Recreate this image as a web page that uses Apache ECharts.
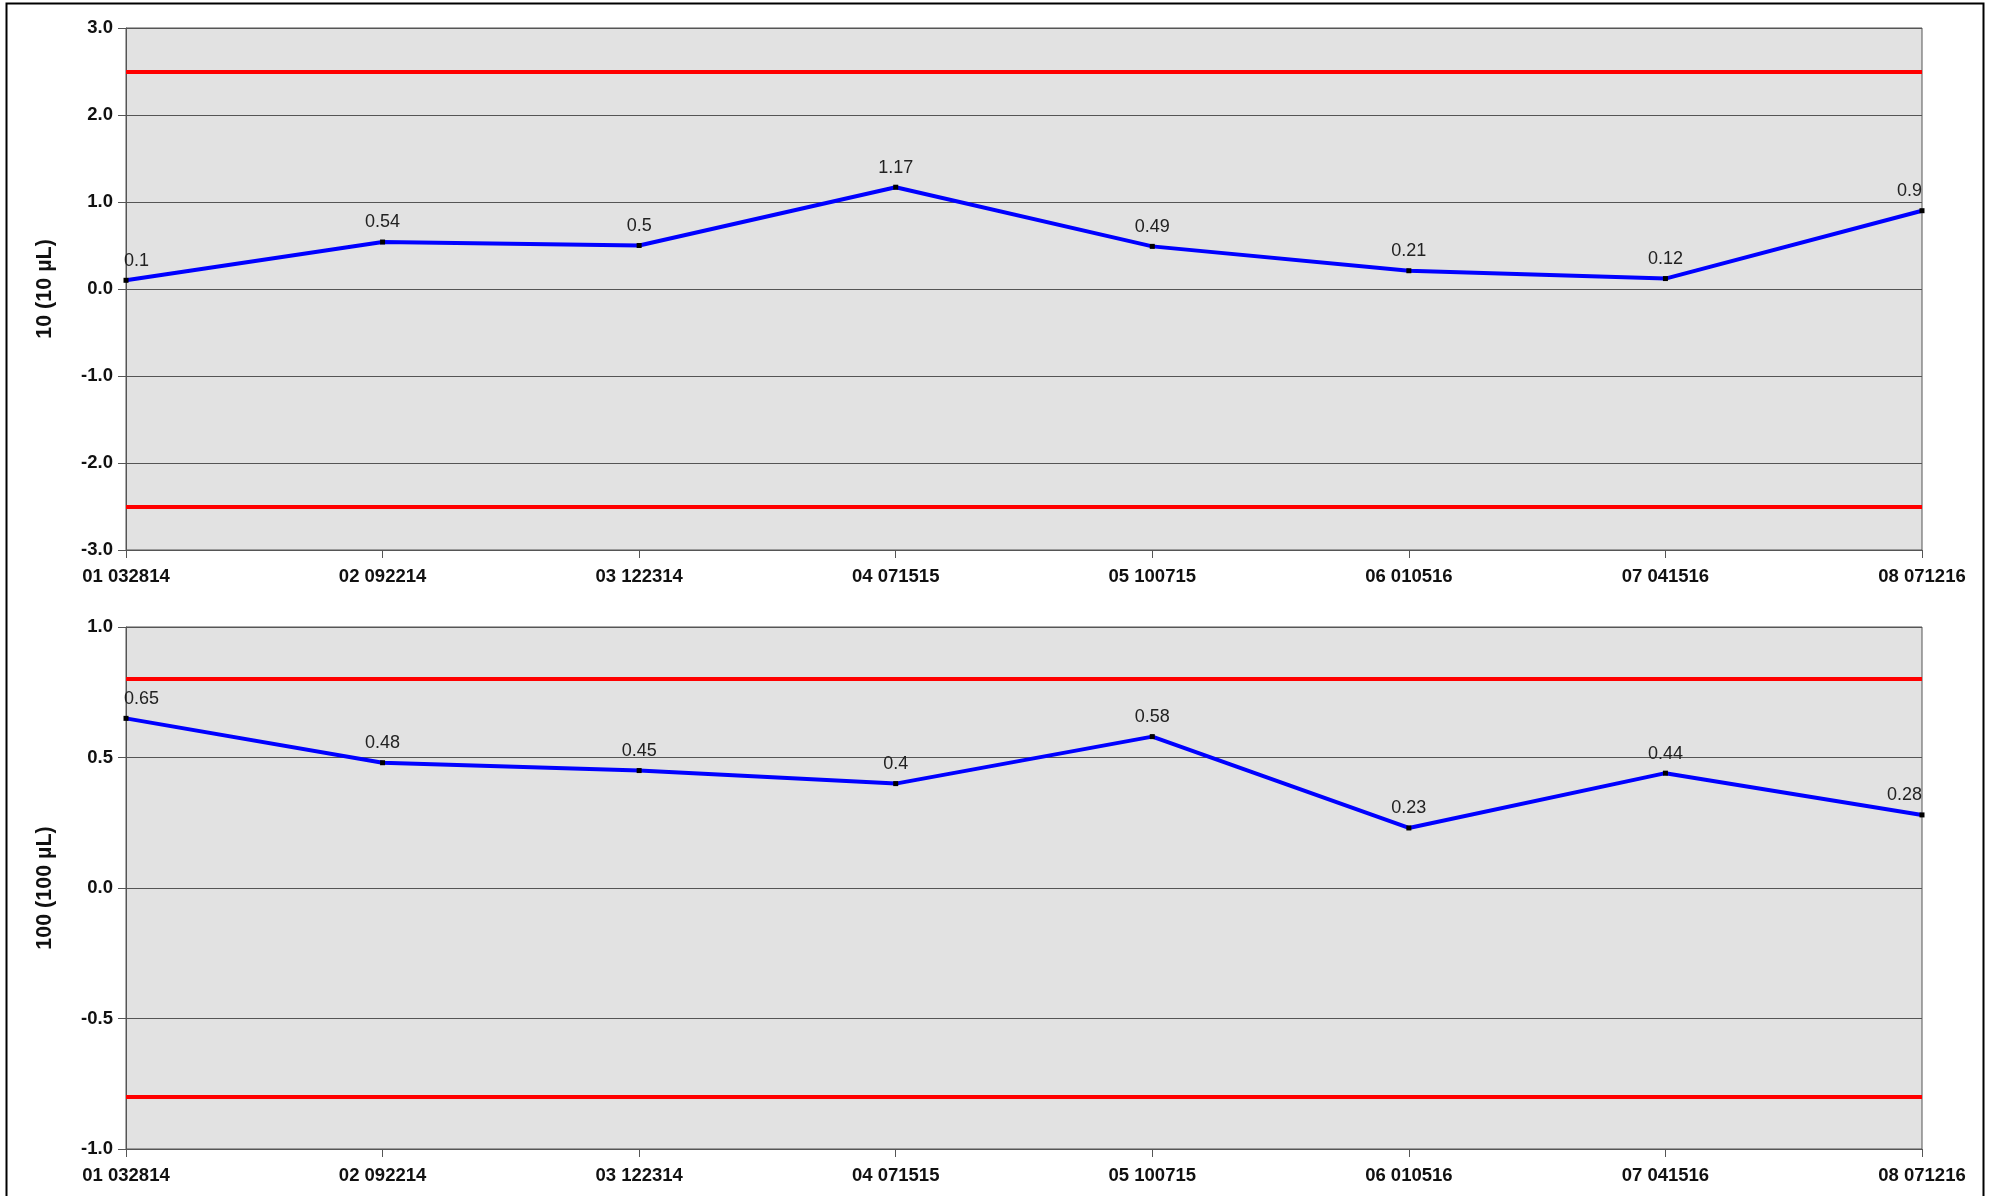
<!DOCTYPE html>
<html><head><meta charset="utf-8">
<script src="https://cdn.jsdelivr.net/npm/echarts@6/dist/echarts.min.js"></script>
<style>html,body{margin:0;padding:0;background:#fff;}#c{width:1992px;height:1196px;}</style>
</head><body><div id="c"></div>
<script>
const categories = ['01 032814','02 092214','03 122314','04 071515','05 100715','06 010516','07 041516','08 071216'];
const values10 = [0.1, 0.54, 0.5, 1.17, 0.49, 0.21, 0.12, 0.9];
const values100 = [0.65, 0.48, 0.45, 0.4, 0.58, 0.23, 0.44, 0.28];
const limits10 = [2.5, -2.5];
const limits100 = [0.8, -0.8];
const yName10 = '10 (10 µL)';
const yName100 = '100 (100 µL)';

const FONT = 'Arial, "Liberation Sans", sans-serif';
const chart = echarts.init(document.getElementById('c'), null, {renderer: 'canvas'});

function items(vals) {
  return vals.map((v, i) => {
    const it = {value: v};
    if (i === 0) it.label = {align: 'left', offset: [-2, 0]};
    else if (i === vals.length - 1) it.label = {align: 'right', offset: [0, 0]};
    return it;
  });
}

function xAxis(idx) {
  return {
    type: 'category', gridIndex: idx, data: categories, boundaryGap: false,
    axisLine: {show: true, onZero: false, lineStyle: {color: '#555', width: 1}},
    axisTick: {show: true, length: 8, lineStyle: {color: '#555'}},
    axisLabel: {fontFamily: FONT, fontSize: 18.5, fontWeight: 'bold', color: '#111', margin: 17},
    splitLine: {show: false}
  };
}
function yAxis(idx, min, max, interval, name) {
  return {
    type: 'value', gridIndex: idx, min: min, max: max, interval: interval,
    name: name, nameLocation: 'middle', nameRotate: 90, nameGap: 70,
    nameTextStyle: {fontFamily: FONT, fontSize: 21.5, fontWeight: 'bold', color: '#111'},
    axisLine: {show: true, lineStyle: {color: '#555', width: 1}},
    axisTick: {show: true, length: 8, lineStyle: {color: '#555'}},
    axisLabel: {fontFamily: FONT, fontSize: 18.5, fontWeight: 'bold', color: '#111', margin: 13,
      formatter: v => v.toFixed(1)},
    splitLine: {show: true, lineStyle: {color: '#555', width: 1}}
  };
}
function lineSeries(idx, vals, limits) {
  return {
    type: 'line', xAxisIndex: idx, yAxisIndex: idx, data: items(vals),
    symbol: 'rect', symbolSize: 5, showAllSymbol: true,
    lineStyle: {color: '#0000ff', width: 4},
    itemStyle: {color: '#000'},
    label: {show: true, position: 'top', distance: 8, fontFamily: FONT, fontSize: 18, color: '#222'},
    emphasis: {disabled: true},
    animation: false, z: 5,
    markLine: {
      silent: true, symbol: ['none', 'none'], animation: false,
      label: {show: false},
      lineStyle: {color: '#ff0000', width: 4, type: 'solid'},
      data: limits.map(l => ({yAxis: l}))
    }
  };
}

chart.setOption({
  animation: false,
  backgroundColor: '#fff',
  grid: [
    {left: 126, right: 70, top: 28, height: 522, show: true, backgroundColor: '#e2e2e2', borderColor: '#555', borderWidth: 1},
    {left: 126, right: 70, top: 627, height: 522, show: true, backgroundColor: '#e2e2e2', borderColor: '#555', borderWidth: 1}
  ],
  xAxis: [xAxis(0), xAxis(1)],
  yAxis: [yAxis(0, -3, 3, 1, yName10), yAxis(1, -1, 1, 0.5, yName100)],
  series: [lineSeries(0, values10, limits10), lineSeries(1, values100, limits100)],
  graphic: [{
    type: 'rect', shape: {x: 6.5, y: 3.5, width: 1977, height: 1200}, silent: true,
    style: {fill: 'none', stroke: '#000', lineWidth: 2}
  }]
});
</script></body></html>
